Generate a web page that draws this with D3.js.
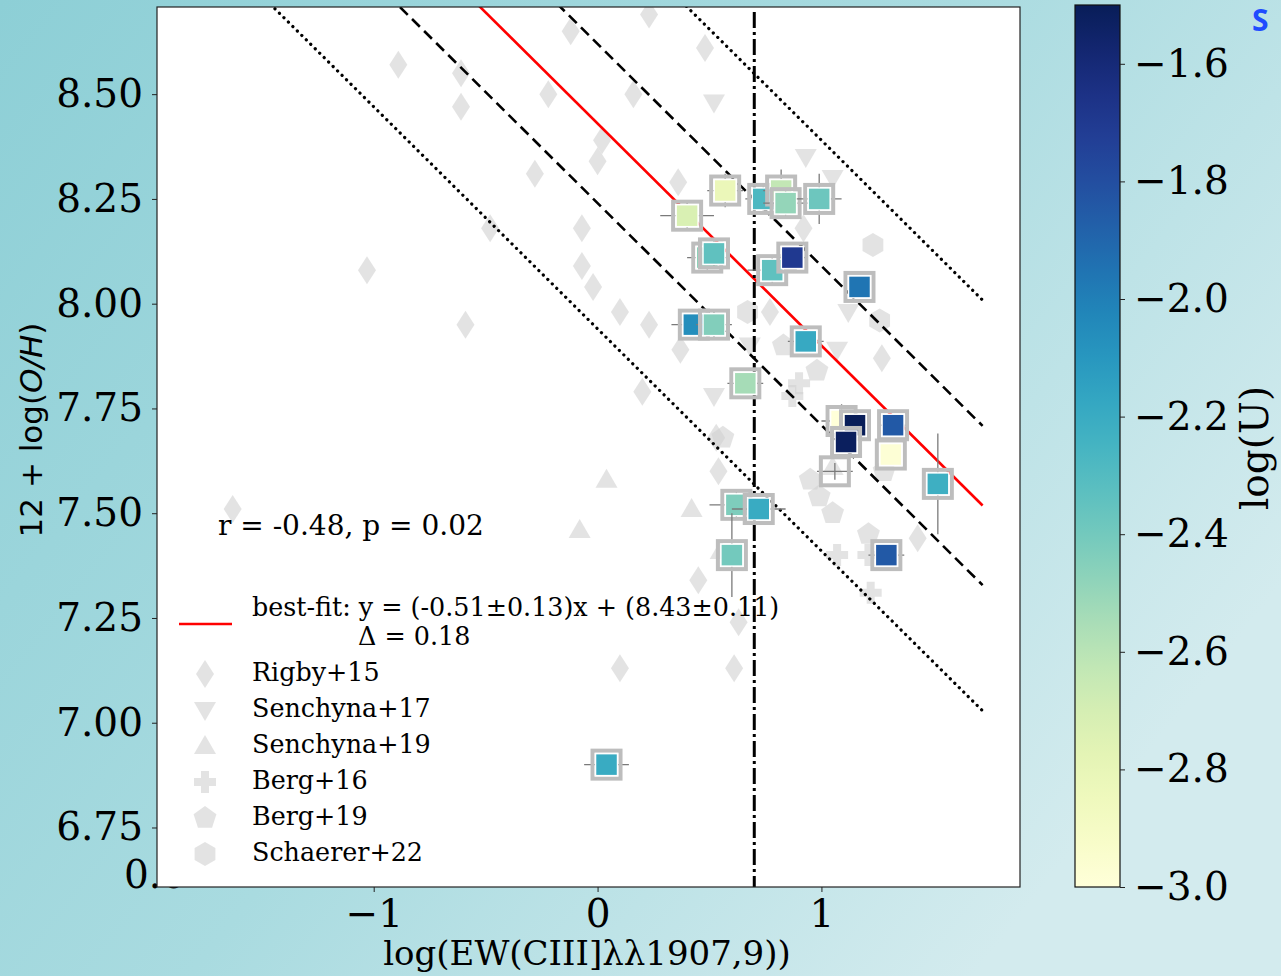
<!DOCTYPE html>
<html>
<head>
<meta charset="utf-8">
<script src="https://cdn.jsdelivr.net/npm/d3@7"></script>
<style>
  body { margin: 0; }
  svg { display: block; }
</style>
</head>
<body>
<div id="chart"></div>
<script>
// observed sample: log EW(CIII]), 12+log(O/H), errors, log(U)
var obsX    = [0.40, 0.57, 0.74, 0.82, 0.84, 0.99, 0.49, 0.52, 0.78, 0.87, 1.17, 0.43, 0.52, 0.93, 0.66, 1.09, 1.15, 1.11, 1.32, 1.31, 1.06, 1.52, 0.62, 0.72, 0.60, 1.29, 0.04];
var obsY    = [8.21, 8.27, 8.25, 8.27, 8.24, 8.25, 8.11, 8.12, 8.08, 8.11, 8.04, 7.95, 7.95, 7.91, 7.81, 7.72, 7.71, 7.67, 7.71, 7.64, 7.60, 7.57, 7.52, 7.51, 7.40, 7.40, 6.90];
var obsXerr = [0.12, 0.08, 0.08, 0.08, 0.10, 0.10, 0.09, 0.05, 0.11, 0.06, 0.03, 0.10, 0.08, 0.08, 0.08, 0.09, 0.04, 0.04, 0.06, 0.03, 0.08, 0.03, 0.12, 0.12, 0.04, 0.08, 0.10];
var obsYerr = [0.03, 0.04, 0.03, 0.05, 0.03, 0.06, 0.03, 0.03, 0.03, 0.02, 0.02, 0.02, 0.03, 0.02, 0.02, 0.04, 0.02, 0.02, 0.02, 0.02, 0.02, 0.12, 0.03, 0.02, 0.10, 0.02, 0.02];
var obsLogU = [-2.72, -2.82, -2.28, -2.63, -2.49, -2.38, -2.47, -2.34, -2.34, -1.70, -1.96, -2.06, -2.44, -2.19, -2.54, -3.0, -1.5, -1.52, -1.85, -2.98, null, -2.22, -2.43, -2.20, -2.40, -1.85, -2.20];

// literature samples (grey)
var rigbyX = [-0.89, -0.61, -0.61, -0.48, -1.03, -0.59, -1.63, -0.22, -0.12, 0.23, 0.16, 0.48, 0.00, 0.02, 0.36, -0.28, -0.07, -0.07, -0.02, 0.10, 0.23, 0.20, 0.37, 0.53, 0.54, 0.45, 0.63, 0.10, 0.61, 1.27, 1.43, 0.92, 0.77];
var rigbyY = [8.57, 8.55, 8.47, 8.18, 8.08, 7.95, 7.51, 8.50, 8.65, 8.69, 8.50, 8.61, 8.34, 8.39, 8.29, 8.31, 8.18, 8.09, 8.04, 7.98, 7.95, 7.79, 7.89, 7.68, 7.60, 7.34, 7.24, 7.13, 7.13, 7.87, 7.44, 8.18, 7.98];
var senchyna17X = [0.52, 0.93, 1.05, 0.68, 0.52, 1.07, 1.12];
var senchyna17Y = [8.48, 8.35, 8.30, 7.90, 7.78, 7.89, 7.98];
var senchyna19X = [0.04, 0.42, -0.08, 0.55, 1.05];
var senchyna19Y = [7.58, 7.51, 7.46, 7.41, 7.61];
var berg16X = [1.07, 1.21, 1.22, 0.90, 0.87];
var berg16Y = [7.40, 7.40, 7.31, 7.81, 7.78];
var berg19X = [0.95, 0.99, 1.05, 1.21, 1.28, 0.98, 0.83, 0.56];
var berg19Y = [7.58, 7.54, 7.50, 7.45, 7.60, 7.84, 7.90, 7.68];
var schaererX = [1.23, 1.26, 0.67];
var schaererY = [8.14, 7.96, 7.98];

// fit and scatter bands
var fitSlope = -0.53;
var fitIntercept = 8.43;
var fitXRange = [-2.5, 1.72];
var bandOffsets = [0.19, 0.49];
var ewCut = 0.7;

var xTicks = [-1, 0, 1];
var yTicks = [6.75, 7.00, 7.25, 7.50, 7.75, 8.00, 8.25, 8.50];
var cTicks = [-3.0, -2.8, -2.6, -2.4, -2.2, -2.0, -1.8, -1.6];

var legendNames = ['Rigby+15', 'Senchyna+17', 'Senchyna+19', 'Berg+16', 'Berg+19', 'Schaerer+22'];
var legendShapes = ['diamond', 'tridown', 'triup', 'plus', 'pentagon', 'hexagon'];

var serif = '"DejaVu Serif", serif';
var W = 1281, H = 976;
var plot = { left: 157, right: 1020, top: 7, bottom: 887 };

var svg = d3.select('#chart').append('svg')
    .attr('width', W)
    .attr('height', H);

var defs = svg.append('defs');

// background
var bg = defs.append('linearGradient').attr('id', 'bg')
    .attr('x1', '0').attr('y1', '0').attr('x2', '1').attr('y2', '0.6');
bg.append('stop').attr('offset', '0%').attr('stop-color', '#8dcfd6');
bg.append('stop').attr('offset', '55%').attr('stop-color', '#a9dbe0');
bg.append('stop').attr('offset', '100%').attr('stop-color', '#d3ebee');
svg.append('rect').attr('width', W).attr('height', H).attr('fill', 'url(#bg)');

// leftovers of the underlying figure
svg.append('text').attr('x', 124).attr('y', 888)
    .style('font-family', serif).style('font-size', '39px').text('0.0');
svg.append('text').attr('x', 1252).attr('y', 31)
    .style('font-family', '"Open Sans", sans-serif').style('font-weight', 'bold')
    .style('font-size', '30px').attr('fill', '#1f4cff').text('S');

defs.append('clipPath').attr('id', 'clip').append('rect')
    .attr('x', plot.left).attr('y', plot.top)
    .attr('width', plot.right - plot.left).attr('height', plot.bottom - plot.top);

svg.append('rect')
    .attr('x', plot.left).attr('y', plot.top)
    .attr('width', plot.right - plot.left).attr('height', plot.bottom - plot.top)
    .attr('fill', '#fff');

var x = d3.scaleLinear().domain([-1.968, 1.887]).range([plot.left, plot.right]);
var y = d3.scaleLinear().domain([6.608, 8.708]).range([plot.bottom, plot.top]);
var cScale = d3.scaleLinear().domain([-3.0, -1.5]).range([plot.bottom, 5]);
var color = function (u) { return d3.interpolateYlGnBu((u + 3.0) / 1.5); };

// marker shapes
function poly(n, r, rot) {
    var pts = d3.range(n).map(function (i) {
        var a = rot + i * 2 * Math.PI / n;
        return [r * Math.sin(a), -r * Math.cos(a)];
    });
    return 'M' + pts.join('L') + 'Z';
}
function shapePath(kind) {
    if (kind === 'diamond') return 'M0,-14L9,0L0,14L-9,0Z';
    if (kind === 'tridown') return 'M-11,-8L11,-8L0,11Z';
    if (kind === 'triup') return 'M-11,8L11,8L0,-11Z';
    if (kind === 'plus') return 'M-4,-11H4V-4H11V4H4V11H-4V4H-11V-4H-4Z';
    if (kind === 'pentagon') return poly(5, 12, 0);
    return poly(6, 12, 0);
}

var grey = svg.append('g').attr('clip-path', 'url(#clip)');
function greyPoints(xs, ys, kind) {
    grey.selectAll(null).data(xs).enter().append('path')
        .attr('d', shapePath(kind))
        .attr('transform', function (d, i) { return 'translate(' + x(d) + ',' + y(ys[i]) + ')'; })
        .attr('fill', '#d0d0d0')
        .attr('fill-opacity', 0.6);
}
greyPoints(rigbyX, rigbyY, 'diamond');
greyPoints(senchyna17X, senchyna17Y, 'tridown');
greyPoints(senchyna19X, senchyna19Y, 'triup');
greyPoints(berg16X, berg16Y, 'plus');
greyPoints(berg19X, berg19Y, 'pentagon');
greyPoints(schaererX, schaererY, 'hexagon');

// fit line and bands
var lines = svg.append('g').attr('clip-path', 'url(#clip)');
function fitLine(off) {
    return d3.line()
        .x(function (d) { return x(d); })
        .y(function (d) { return y(fitSlope * d + fitIntercept + off); })(fitXRange);
}
bandOffsets.forEach(function (o, k) {
    [o, -o].forEach(function (off) {
        lines.append('path')
            .attr('d', fitLine(off))
            .attr('fill', 'none')
            .attr('stroke', '#000')
            .attr('stroke-width', k === 0 ? 2.6 : 3.2)
            .attr('stroke-dasharray', k === 0 ? '11,6' : '0.1,6.2')
            .attr('stroke-linecap', k === 0 ? 'butt' : 'round');
    });
});
lines.append('path')
    .attr('d', fitLine(0))
    .attr('fill', 'none')
    .attr('stroke', '#ff0000')
    .attr('stroke-width', 2.6);
lines.append('line')
    .attr('x1', x(ewCut)).attr('x2', x(ewCut))
    .attr('y1', plot.top + 5).attr('y2', plot.bottom)
    .attr('stroke', '#000').attr('stroke-width', 3)
    .attr('stroke-dasharray', '16,4,3,4');

// observed points
var obs = svg.append('g').attr('clip-path', 'url(#clip)');
obsX.forEach(function (xv, i) {
    var g = obs.append('g');
    var cx = x(xv), cy = y(obsY[i]);
    g.append('line')
        .attr('x1', x(xv - obsXerr[i])).attr('x2', x(xv + obsXerr[i]))
        .attr('y1', cy).attr('y2', cy)
        .attr('stroke', '#7a7a7a').attr('stroke-width', 1.3);
    g.append('line')
        .attr('x1', cx).attr('x2', cx)
        .attr('y1', y(obsY[i] - obsYerr[i])).attr('y2', y(obsY[i] + obsYerr[i]))
        .attr('stroke', '#7a7a7a').attr('stroke-width', 1.3);
    g.append('rect')
        .attr('x', cx - 14).attr('y', cy - 14).attr('width', 28).attr('height', 28)
        .attr('fill', 'none').attr('stroke', '#bdbdbd').attr('stroke-width', 4);
    if (obsLogU[i] !== null) {
        g.append('rect')
            .attr('x', cx - 11).attr('y', cy - 11).attr('width', 22).attr('height', 22)
            .attr('fill', color(obsLogU[i])).attr('stroke', '#fff').attr('stroke-width', 1.5);
    }
});

// frame
svg.append('rect')
    .attr('x', plot.left).attr('y', plot.top)
    .attr('width', plot.right - plot.left).attr('height', plot.bottom - plot.top)
    .attr('fill', 'none').attr('stroke', '#222').attr('stroke-width', 1.2);

// axes
var xAxis = svg.append('g')
    .attr('transform', 'translate(0,' + plot.bottom + ')')
    .call(d3.axisBottom(x).tickValues(xTicks).tickSize(5).tickPadding(7).tickFormat(d3.format('d')));
var yAxis = svg.append('g')
    .attr('transform', 'translate(' + plot.left + ',0)')
    .call(d3.axisLeft(y).tickValues(yTicks).tickSize(5).tickPadding(9).tickFormat(d3.format('.2f')));
[xAxis, yAxis].forEach(function (a) {
    a.select('.domain').remove();
    a.selectAll('text').style('font-family', serif).style('font-size', '39px').attr('fill', '#000');
    a.selectAll('line').attr('stroke', '#222');
});

svg.append('text')
    .attr('x', 587).attr('y', 965)
    .attr('text-anchor', 'middle')
    .style('font-family', serif).style('font-size', '34px')
    .text('log(EW(CIII]λλ1907,9))');

var yl = svg.append('text')
    .attr('transform', 'translate(42,430) rotate(-90)')
    .attr('text-anchor', 'middle')
    .style('font-family', '"DejaVu Sans", sans-serif').style('font-size', '31px');
yl.append('tspan').text('12 + log(');
yl.append('tspan').style('font-style', 'italic').text('O/H');
yl.append('tspan').text(')');

// annotation and legend
svg.append('text').attr('x', 218).attr('y', 535)
    .style('font-family', serif).style('font-size', '28px')
    .text('r = -0.48, p = 0.02');

var leg = svg.append('g');
leg.append('line').attr('x1', 179).attr('x2', 232).attr('y1', 624).attr('y2', 624)
    .attr('stroke', '#ff0000').attr('stroke-width', 2.5);
leg.append('text').attr('x', 252).attr('y', 616)
    .style('font-family', serif).style('font-size', '25.4px')
    .text('best-fit: y = (-0.51±0.13)x + (8.43±0.11)');
leg.append('text').attr('x', 358).attr('y', 645)
    .style('font-family', serif).style('font-size', '25.4px')
    .text('Δ = 0.18');
legendNames.forEach(function (name, i) {
    var cy = 674 + i * 36;
    leg.append('path').attr('d', shapePath(legendShapes[i]))
        .attr('transform', 'translate(205,' + cy + ')')
        .attr('fill', '#d0d0d0').attr('fill-opacity', 0.6);
    leg.append('text').attr('x', 252).attr('y', cy + 7)
        .style('font-family', serif).style('font-size', '25.4px')
        .text(name);
});

// colour bar
var cb = { left: 1075, right: 1120, top: 5, bottom: 887 };
var cg = defs.append('linearGradient').attr('id', 'cbar')
    .attr('x1', '0').attr('y1', '1').attr('x2', '0').attr('y2', '0');
d3.range(0, 1.0001, 0.05).forEach(function (t) {
    cg.append('stop').attr('offset', (t * 100) + '%').attr('stop-color', d3.interpolateYlGnBu(t));
});
svg.append('rect')
    .attr('x', cb.left).attr('y', cb.top)
    .attr('width', cb.right - cb.left).attr('height', cb.bottom - cb.top)
    .attr('fill', 'url(#cbar)').attr('stroke', '#111').attr('stroke-width', 1.2);
var cAxis = svg.append('g')
    .attr('transform', 'translate(' + cb.right + ',0)')
    .call(d3.axisRight(cScale).tickValues(cTicks).tickSize(5).tickPadding(9).tickFormat(d3.format('.1f')));
cAxis.select('.domain').remove();
cAxis.selectAll('text').style('font-family', serif).style('font-size', '39px').attr('fill', '#000');
cAxis.selectAll('line').attr('stroke', '#222');

svg.append('text')
    .attr('transform', 'translate(1268,448) rotate(-90)')
    .attr('text-anchor', 'middle')
    .style('font-family', serif).style('font-size', '39px')
    .text('log(U)');
</script>
</body>
</html>
